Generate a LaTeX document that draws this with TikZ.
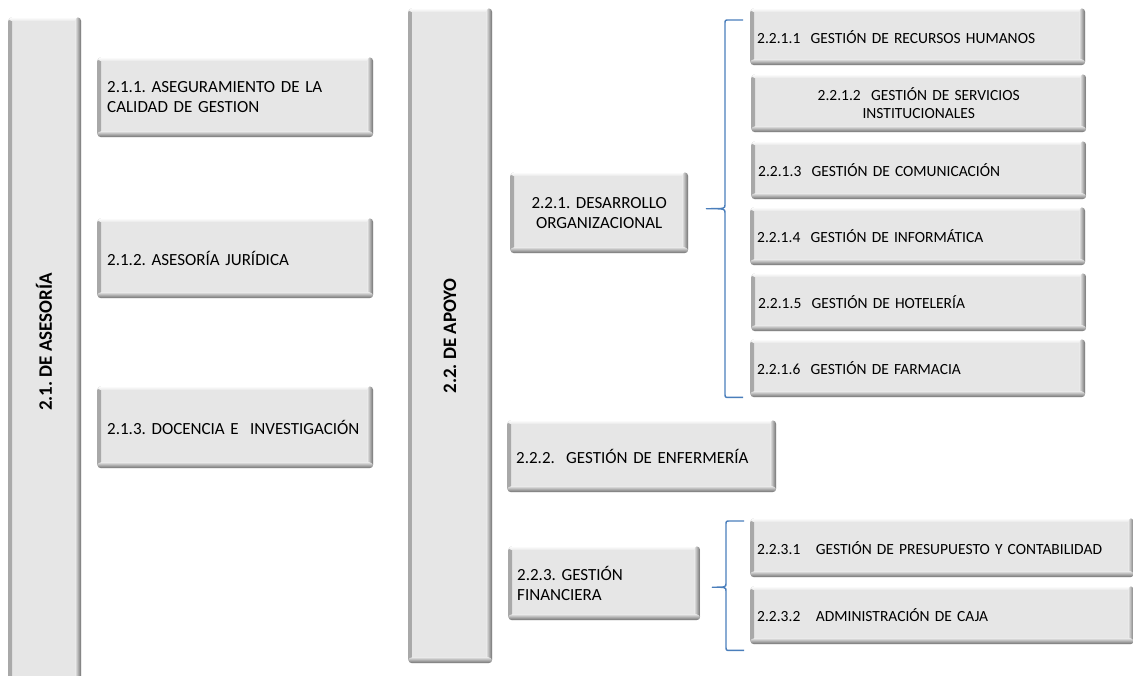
\documentclass[tikz,border=0pt]{standalone}
\usepackage{fontspec}
\setmainfont{Carlito}
\usetikzlibrary{calc}
\frenchspacing

\definecolor{boxfill}{HTML}{E6E6E6}
\definecolor{edgedark}{HTML}{6E6E6E}
\definecolor{edgeleft}{HTML}{A8A8A8}
\definecolor{bracecol}{HTML}{4A7EBB}

\tikzset{
  bevel/.style={path picture={
    % soft left edge
    \shade[left color=edgeleft, right color=boxfill]
      (path picture bounding box.south west) rectangle ([xshift=4pt]path picture bounding box.north west);
    % highlight along the top
    \shade[top color=white, bottom color=boxfill]
      ([yshift=-4pt]path picture bounding box.north west) rectangle (path picture bounding box.north east);
    % shaded right edge
    \shade[left color=boxfill, right color=edgedark]
      ([xshift=-6pt]path picture bounding box.south east) rectangle (path picture bounding box.north east);
    % shaded bottom edge
    \shade[top color=boxfill, bottom color=edgedark]
      (path picture bounding box.south west) rectangle ([yshift=6pt]path picture bounding box.south east);
  }},
  box/.style={rectangle, rounded corners=4pt, fill=boxfill, anchor=north west,
    inner ysep=0pt, inner xsep=8pt, align=left, bevel,
    font=\fontsize{17}{20}\selectfont},
  subbox/.style={box, inner xsep=7pt, font=\fontsize{15.5}{17.5}\selectfont},
  collabel/.style={rotate=90, font=\fontsize{19}{22}\selectfont\bfseries},
  brace/.style={draw=bracecol, line width=1.4pt, line join=round},
}

\begin{document}
\begin{tikzpicture}[x=1pt, y=-1pt]
\useasboundingbox (0,0) rectangle (1133,675);
\clip (0,0) rectangle (1133,675);

% ---- 2.1 column ----
\node[box, minimum width=73pt, minimum height=670pt] (col21) at (8,17) {};
\node[collabel] (col21lab) at (44,342) {2.1. DE ASESORÍA};

\node[box, inner xsep=10pt, text width=256pt, minimum height=80pt] (n211) at (97,57)
  {2.1.1. ASEGURAMIENTO DE LA\\CALIDAD DE GESTION};
\node[box, inner xsep=10pt, text width=256pt, minimum height=80pt] (n212) at (97,218)
  {2.1.2. ASESORÍA JURÍDICA};
\node[box, inner xsep=10pt, text width=256pt, minimum height=82pt] (n213) at (97,386)
  {2.1.3. DOCENCIA E\ \ INVESTIGACIÓN};

% ---- 2.2 column ----
\node[box, minimum width=84pt, minimum height=655pt] (col22) at (408,8) {};
\node[collabel] (col22lab) at (450,336) {2.2. DE APOYO};

\node[box, align=center, text width=162pt, minimum height=81pt] (n221) at (510,172)
  {2.2.1. DESARROLLO\\ORGANIZACIONAL};

\node[subbox, text width=321pt, minimum height=57pt] (n2211) at (750,8)
  {2.2.1.1\ \ GESTIÓN DE RECURSOS HUMANOS};
\node[subbox, align=center, text width=321pt, minimum height=58pt] (n2212) at (751,74)
  {2.2.1.2\ \ GESTIÓN DE SERVICIOS\\INSTITUCIONALES};
\node[subbox, text width=321pt, minimum height=58pt] (n2213) at (751,141)
  {2.2.1.3\ \ GESTIÓN DE COMUNICACIÓN};
\node[subbox, text width=321pt, minimum height=58pt] (n2214) at (750,207)
  {2.2.1.4\ \ GESTIÓN DE INFORMÁTICA};
\node[subbox, text width=321pt, minimum height=58pt] (n2215) at (751,273)
  {2.2.1.5\ \ GESTIÓN DE HOTELERÍA};
\node[subbox, text width=321pt, minimum height=58pt] (n2216) at (750,339)
  {2.2.1.6\ \ GESTIÓN DE FARMACIA};

\node[box, inner xsep=9pt, text width=251pt, minimum height=72pt] (n222) at (507,420)
  {2.2.2.\ \ GESTIÓN DE ENFERMERÍA};

\node[box, inner xsep=9pt, text width=174pt, minimum height=74pt] (n223) at (508,546)
  {2.2.3. GESTIÓN\\FINANCIERA};

\node[subbox, text width=370pt, minimum height=59pt] (n2231) at (750,518)
  {2.2.3.1\ \ \ GESTIÓN DE PRESUPUESTO Y CONTABILIDAD};
\node[subbox, text width=370pt, minimum height=58pt] (n2232) at (750,586)
  {2.2.3.2\ \ \ ADMINISTRACIÓN DE CAJA};

% ---- braces ----
\coordinate (b1t) at ([xshift=-7pt,yshift=-12pt]n2211.north west);
\coordinate (b1m) at ([xshift=18pt,yshift=4pt]n221.east);
\coordinate (b1b) at ([xshift=-7pt]n2216.south west);
\draw[brace] let \p1=(b1t), \p2=(b1m), \p3=(b1b) in
  (\p1) -- (\x1-14pt,\y1) .. controls (\x1-18pt,\y1) .. (\x1-18pt,\y1-4pt)
  -- (\x1-18pt,\y2+4pt) .. controls (\x1-18pt,\y2) .. (\p2)
  .. controls (\x1-18pt,\y2) .. (\x1-18pt,\y2-4pt)
  -- (\x1-18pt,\y3+4pt) .. controls (\x1-18pt,\y3) .. (\x1-14pt,\y3) -- (\p3);

\coordinate (b2t) at ([xshift=-6pt,yshift=-3pt]n2231.north west);
\coordinate (b2m) at ([xshift=12pt,yshift=-4pt]n223.east);
\coordinate (b2b) at ([xshift=-6pt,yshift=-6pt]n2232.south west);
\draw[brace] let \p1=(b2t), \p2=(b2m), \p3=(b2b) in
  (\p1) -- (\x1-14pt,\y1) .. controls (\x1-18pt,\y1) .. (\x1-18pt,\y1-4pt)
  -- (\x1-18pt,\y2+4pt) .. controls (\x1-18pt,\y2) .. (\p2)
  .. controls (\x1-18pt,\y2) .. (\x1-18pt,\y2-4pt)
  -- (\x1-18pt,\y3+4pt) .. controls (\x1-18pt,\y3) .. (\x1-14pt,\y3) -- (\p3);
\end{tikzpicture}
\end{document}
